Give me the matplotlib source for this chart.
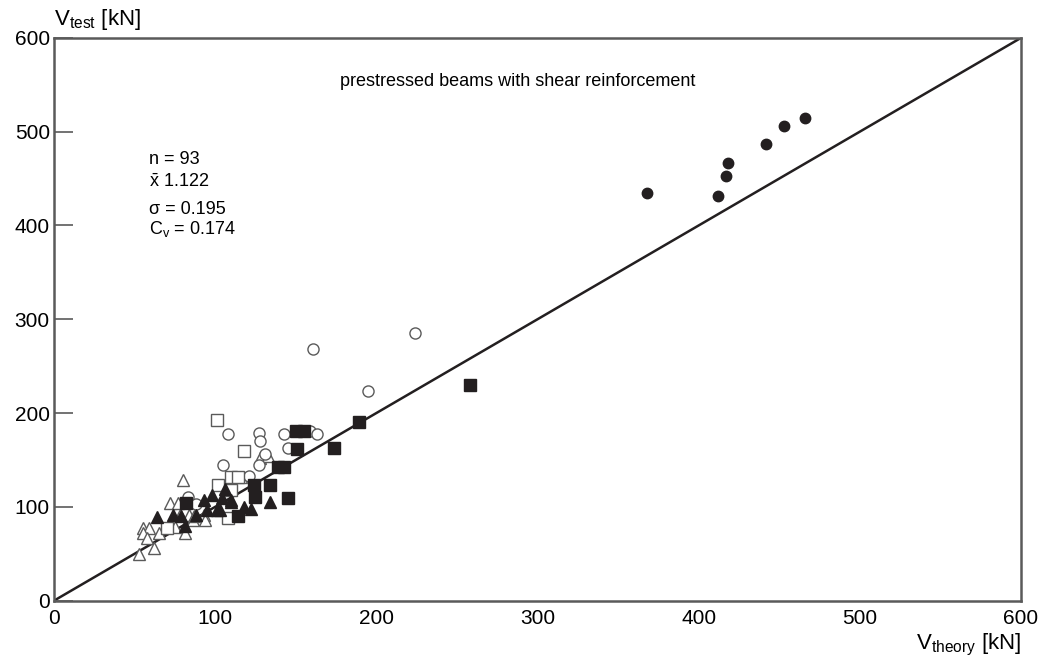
import matplotlib
matplotlib.use("Agg")
import matplotlib.pyplot as plt

plt.rcParams["font.family"] = ["Liberation Sans", "DejaVu Sans"]
plt.rcParams["mathtext.fontset"] = "custom"
plt.rcParams["mathtext.rm"] = "Liberation Sans"
plt.rcParams["mathtext.it"] = "Liberation Sans:italic"

INK = "#231f20"
EDGE = "#5a5a5a"

# ── data (V_theory, V_test) in kN ─────────────────────────────────────────
filled_circ_x = [368, 412, 417, 418, 442, 453, 466]
filled_circ_y = [435, 431, 453, 467, 487, 506, 515]

open_circ_x = [224, 195, 161, 108, 127, 128, 143, 159, 163, 145, 131, 105, 127, 121, 83, 88]
open_circ_y = [285, 224, 268, 178, 179, 170, 178, 181, 178, 163, 156, 145, 145, 133, 111, 103]

filled_sq_x = [258, 189, 174, 150, 155, 151, 139, 143, 124, 134, 125, 145, 114, 82]
filled_sq_y = [230, 190, 163, 181, 181, 162, 143, 143, 123, 123, 111, 110, 90, 104]

open_sq_x = [101, 118, 110, 114, 102, 110, 108, 70]
open_sq_y = [193, 160, 132, 132, 123, 118, 88, 77]

open_tri_x = [80, 72, 77, 55, 59, 55, 65, 58, 62, 53, 75, 81, 84, 93, 86, 94, 128, 133, 116, 78, 87]
open_tri_y = [129, 104, 104, 77, 77, 72, 72, 67, 56, 50, 79, 72, 91, 91, 86, 86, 152, 154, 132, 91, 90]

filled_tri_x = [64, 74, 81, 93, 98, 106, 104, 110, 79, 88, 95, 103, 118, 122, 134, 101, 110]
filled_tri_y = [89, 91, 80, 107, 113, 119, 110, 107, 90, 91, 97, 97, 100, 98, 105, 97, 105]

fig = plt.figure(figsize=(10.42, 6.59), dpi=100, facecolor="white")
ax = fig.add_axes([0.0518, 0.0885, 0.928, 0.854])

ax.plot([0, 600], [0, 600], color=INK, linewidth=1.8, zorder=1)

ax.plot(open_tri_x, open_tri_y, "^", ms=8, mfc="white", mec=EDGE, mew=1.0, ls="none", zorder=2)
ax.plot(open_circ_x, open_circ_y, "o", ms=8, mfc="white", mec=EDGE, mew=1.0, ls="none", zorder=2)
ax.plot(open_sq_x, open_sq_y, "s", ms=8.5, mfc="white", mec=EDGE, mew=1.0, ls="none", zorder=2)
ax.plot(filled_tri_x, filled_tri_y, "^", ms=8, color=INK, ls="none", zorder=3)
ax.plot(filled_sq_x, filled_sq_y, "s", ms=9, color=INK, ls="none", zorder=3)
ax.plot(filled_circ_x, filled_circ_y, "o", ms=7.5, color=INK, ls="none", zorder=3)

ax.set_xlim(0, 600)
ax.set_ylim(0, 600)
ax.set_xticks(range(0, 601, 100))
ax.set_yticks(range(0, 601, 100))
ax.tick_params(direction="in", length=14, width=1.2, color=EDGE, labelsize=15,
               labelcolor="black")
ax.tick_params(axis="x", length=0, pad=6)
ax.tick_params(axis="y", pad=3)
for s in ax.spines.values():
    s.set_color(EDGE)
    s.set_linewidth(1.8)

ax.text(0.0, 1.01, r"V$_{\mathrm{test}}$ [kN]", transform=ax.transAxes,
        fontsize=16, ha="left", va="bottom")
ax.text(1.0, -0.055, r"V$_{\mathrm{theory}}$ [kN]", transform=ax.transAxes,
        fontsize=16, ha="right", va="top")

ax.text(288, 553, "prestressed beams with shear reinforcement", fontsize=13, ha="center", va="center")
ax.text(59, 470, "n = 93", fontsize=13, va="center")
ax.text(59, 446, r"$\bar{\mathrm{x}}$ 1.122", fontsize=13, va="center")
ax.text(59, 417, "\u03c3 = 0.195", fontsize=13, va="center")
ax.text(59, 396, r"C$_{\mathrm{v}}$ = 0.174", fontsize=13, va="center")

fig.savefig("out.png", dpi=100, facecolor="white")
